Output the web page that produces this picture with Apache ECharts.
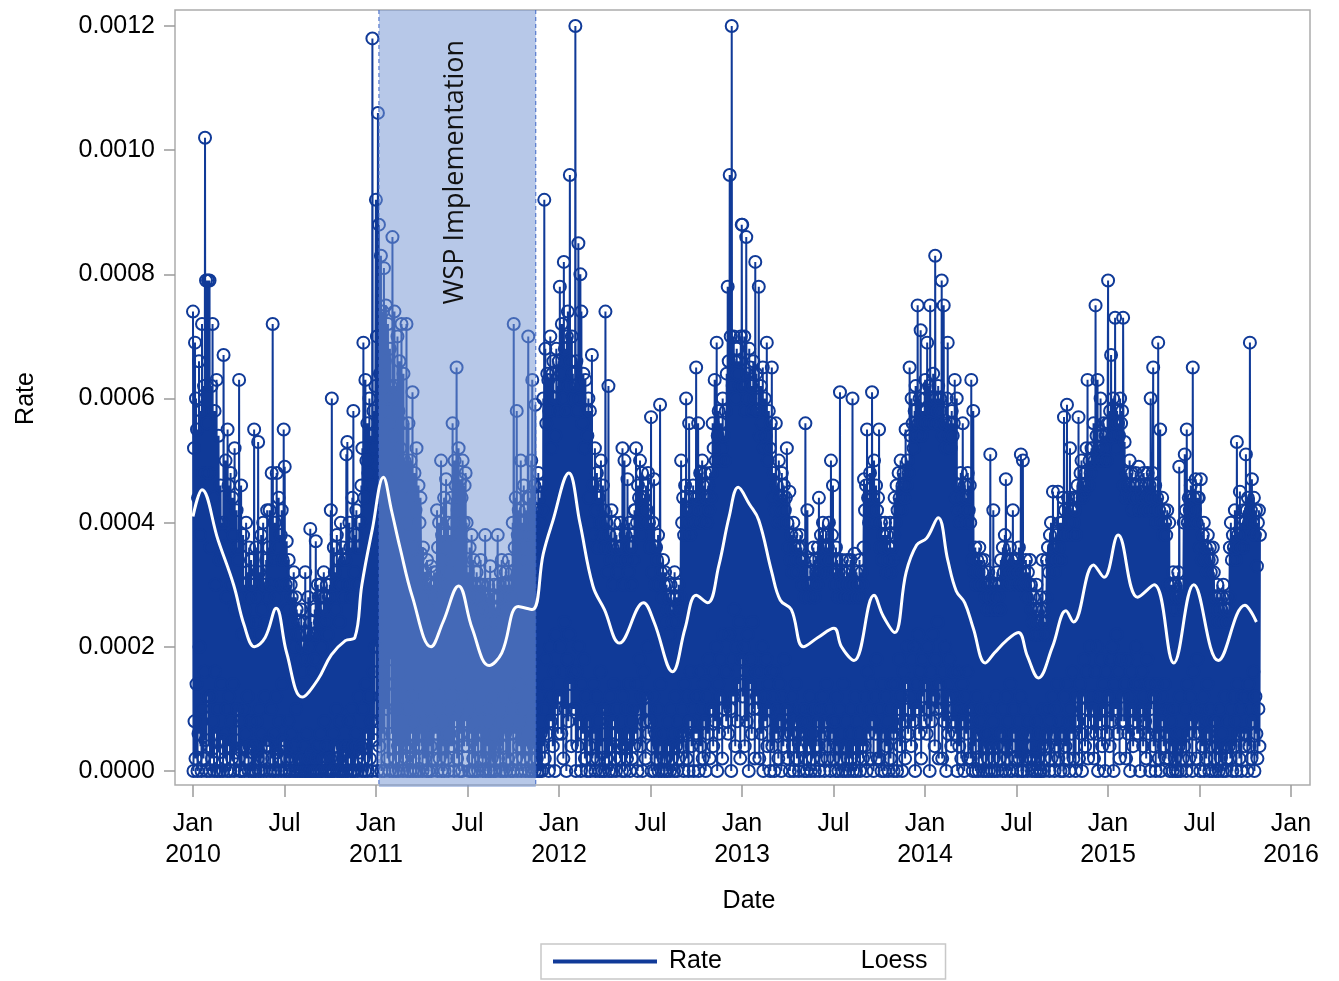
<!DOCTYPE html>
<html>
<head>
<meta charset="utf-8">
<title>Rate and Loess</title>
<script src="https://cdn.jsdelivr.net/npm/echarts@6.0.0/dist/echarts.min.js"></script>
<style>
  html, body { margin: 0; padding: 0; background: #fff; }
  #chart { width: 1339px; height: 981px; }
</style>
</head>
<body>
<div id="chart"></div>
<script>
// daily rate per 100,000 (74 = 0.00074), starting Jan 1 of each year, one row per month
const RATE_UNIT = 1e-5
const DAY = 24 * 3600 * 1000

const rate2010 = [
  74, 0, 52, 8, 69, 2, 60, 14, 55, 0, 44, 6, 66, 20, 38, 4, 58, 0, 72, 10, 48, 2, 62, 16, 102, 5, 79, 0, 56, 12, 79,
  48, 4, 79, 0, 36, 12, 62, 2, 72, 8, 44, 0, 58, 16, 30, 6, 63, 0, 40, 10, 54, 3, 34, 0, 46, 14, 38, 5,
  40, 0, 67, 6, 34, 2, 50, 10, 28, 0, 55, 4, 46, 12, 36, 0, 48, 8, 30, 2, 44, 14, 38, 0, 52, 5, 26, 3, 42, 10, 36,
  34, 2, 63, 0, 28, 8, 46, 0, 22, 4, 38, 10, 30, 0, 26, 6, 40, 2, 32, 12, 24, 0, 36, 4, 28, 8, 34, 0, 30, 3,
  30, 0, 55, 4, 24, 0, 36, 8, 28, 2, 53, 0, 32, 10, 22, 0, 38, 6, 26, 2, 40, 0, 30, 12, 24, 4, 34, 0, 42, 5, 28,
  36, 4, 42, 0, 30, 10, 48, 2, 72, 0, 34, 6, 40, 0, 28, 12, 48, 3, 36, 0, 44, 8, 30, 2, 38, 0, 42, 14, 34, 5,
  55, 0, 49, 4, 30, 0, 37, 2, 26, 8, 34, 0, 22, 0, 30, 6, 28, 2, 24, 0, 32, 4, 20, 0, 28, 10, 26, 0, 22, 2, 24,
  22, 0, 18, 0, 26, 2, 20, 0, 16, 4, 24, 0, 32, 0, 18, 6, 22, 0, 28, 2, 20, 0, 39, 0, 24, 3, 16, 0, 22, 0, 18,
  26, 0, 37, 2, 22, 0, 30, 4, 28, 0, 24, 6, 30, 0, 20, 0, 26, 2, 32, 8, 28, 0, 24, 4, 30, 0, 22, 2, 28, 0,
  30, 2, 42, 0, 60, 0, 28, 6, 36, 0, 32, 4, 26, 10, 38, 0, 30, 2, 34, 0, 24, 8, 40, 0, 30, 4, 36, 0, 28, 3, 34,
  34, 0, 51, 4, 53, 0, 30, 8, 40, 2, 36, 0, 28, 10, 44, 0, 58, 4, 32, 0, 38, 6, 42, 2, 30, 0, 36, 12, 40, 3,
  40, 4, 46, 0, 52, 10, 69, 2, 44, 0, 63, 14, 50, 6, 56, 0, 48, 12, 60, 2, 54, 8, 46, 0, 118, 16, 58, 5, 52, 20, 62,
]
const rate2011 = [
  92, 8, 70, 0, 106, 20, 88, 4, 64, 12, 83, 0, 58, 16, 74, 6, 81, 0, 66, 24, 75, 10, 60, 2, 72, 14, 56, 0, 68, 18, 62,
  60, 6, 86, 0, 54, 14, 74, 2, 62, 0, 48, 10, 70, 4, 58, 0, 66, 16, 52, 2, 72, 8, 56, 0, 64, 12, 50, 4,
  46, 2, 72, 0, 40, 10, 56, 4, 38, 0, 50, 6, 44, 12, 61, 0, 36, 2, 48, 8, 42, 0, 52, 4, 34, 14, 46, 0, 40, 6, 44,
  35, 4, 30, 0, 36, 8, 28, 2, 32, 12, 31, 0, 34, 6, 26, 0, 30, 10, 28, 4, 33, 0, 30, 8, 28, 2, 32, 14, 30, 6,
  32, 6, 42, 0, 36, 10, 40, 2, 30, 12, 50, 0, 38, 4, 34, 8, 44, 0, 30, 14, 47, 2, 36, 6, 40, 0, 32, 10, 38, 4, 34,
  44, 4, 56, 12, 40, 0, 50, 8, 46, 16, 65, 2, 42, 10, 52, 0, 38, 14, 47, 6, 44, 0, 50, 12, 40, 4, 46, 18, 48, 8,
  40, 4, 32, 10, 28, 0, 36, 6, 30, 12, 38, 0, 26, 2, 34, 8, 30, 0, 28, 14, 32, 4, 26, 0, 30, 6, 28, 10, 34, 2, 30,
  26, 0, 30, 6, 24, 2, 38, 0, 28, 10, 22, 4, 30, 0, 26, 8, 33, 0, 24, 2, 28, 12, 22, 0, 30, 6, 26, 0, 24, 4, 28,
  38, 2, 30, 8, 28, 0, 32, 10, 34, 4, 26, 0, 30, 12, 28, 6, 32, 0, 30, 8, 26, 2, 34, 14, 30, 0, 28, 6, 32, 10,
  40, 0, 72, 6, 36, 12, 44, 2, 58, 0, 38, 14, 42, 4, 34, 8, 50, 0, 40, 10, 36, 2, 46, 16, 38, 0, 42, 6, 34, 4, 44,
  70, 0, 44, 8, 38, 2, 50, 0, 63, 14, 40, 4, 46, 0, 59, 10, 42, 2, 36, 0, 48, 12, 44, 0, 40, 6, 46, 0, 42, 4,
  60, 10, 92, 2, 68, 18, 56, 6, 64, 14, 63, 0, 58, 20, 70, 8, 52, 12, 64, 4, 66, 16, 60, 0, 54, 22, 68, 10, 62, 6, 58,
]
const rate2012 = [
  66, 12, 78, 20, 64, 6, 72, 16, 60, 2, 82, 24, 68, 10, 58, 0, 70, 18, 74, 8, 62, 22, 96, 14, 66, 4, 70, 16, 64, 10, 60,
  62, 10, 120, 0, 66, 16, 58, 4, 85, 20, 60, 8, 80, 0, 74, 14, 56, 6, 64, 18, 52, 2, 63, 12, 58, 0, 54, 8, 60,
  44, 4, 58, 0, 40, 10, 67, 2, 46, 14, 38, 6, 52, 0, 42, 12, 48, 2, 36, 8, 44, 0, 40, 16, 50, 4, 38, 0, 46, 10, 42,
  36, 0, 74, 6, 40, 2, 32, 10, 62, 0, 38, 12, 34, 4, 42, 0, 36, 8, 30, 14, 40, 2, 34, 0, 38, 6, 32, 10, 36, 4,
  34, 2, 40, 8, 36, 0, 52, 12, 30, 4, 50, 0, 38, 10, 34, 2, 47, 6, 32, 14, 40, 0, 36, 8, 30, 2, 38, 10, 34, 4, 42,
  42, 6, 52, 14, 40, 0, 46, 10, 44, 18, 50, 4, 38, 12, 48, 0, 42, 16, 44, 8, 40, 2, 46, 12, 42, 20, 48, 6, 40, 10,
  36, 8, 57, 0, 32, 4, 40, 12, 47, 0, 30, 6, 36, 2, 34, 10, 38, 0, 30, 4, 59, 14, 32, 0, 28, 6, 34, 2, 30, 0, 32,
  24, 2, 30, 0, 26, 8, 28, 4, 22, 0, 30, 10, 26, 2, 24, 6, 28, 0, 32, 12, 26, 4, 28, 0, 24, 8, 30, 2, 26, 6, 28,
  50, 4, 40, 10, 44, 0, 38, 14, 46, 6, 60, 2, 42, 12, 40, 0, 56, 8, 38, 16, 44, 4, 42, 10, 46, 0, 40, 12, 44, 6,
  65, 6, 44, 12, 56, 0, 42, 16, 48, 4, 40, 10, 50, 2, 46, 14, 42, 8, 48, 0, 44, 12, 40, 6, 46, 18, 42, 2, 48, 10, 44,
  48, 10, 56, 4, 52, 16, 63, 8, 50, 20, 69, 0, 54, 14, 58, 6, 50, 18, 56, 12, 52, 2, 60, 22, 54, 10, 50, 16, 58, 8,
  64, 16, 78, 6, 66, 22, 96, 10, 70, 0, 120, 18, 62, 12, 70, 26, 66, 4, 60, 20, 68, 8, 64, 14, 66, 24, 62, 2, 70, 18, 88,
]
const rate2013 = [
  88, 12, 62, 20, 70, 4, 58, 16, 86, 8, 64, 22, 60, 0, 68, 14, 65, 18, 62, 6, 58, 24, 66, 10, 60, 2, 82, 16, 64, 12, 58,
  58, 10, 78, 2, 54, 16, 62, 6, 56, 20, 65, 0, 52, 12, 60, 8, 54, 18, 69, 4, 50, 14, 58, 10, 52, 0, 56, 16,
  65, 4, 44, 12, 48, 0, 42, 16, 56, 6, 46, 10, 40, 2, 50, 14, 44, 8, 42, 0, 48, 12, 40, 4, 46, 18, 42, 6, 44, 10, 52,
  40, 2, 36, 10, 45, 0, 34, 6, 38, 12, 32, 4, 40, 0, 36, 8, 34, 14, 38, 2, 32, 6, 36, 0, 34, 10, 38, 4, 36, 8,
  30, 6, 34, 0, 28, 10, 56, 2, 32, 0, 42, 8, 30, 4, 28, 12, 34, 0, 32, 6, 30, 2, 36, 10, 28, 0, 34, 4, 32, 8, 30,
  36, 4, 44, 0, 32, 10, 38, 2, 34, 12, 40, 6, 36, 0, 32, 8, 38, 14, 34, 2, 36, 4, 40, 10, 34, 0, 50, 6, 38, 8,
  46, 2, 32, 8, 30, 0, 36, 12, 34, 4, 28, 0, 32, 10, 61, 2, 30, 6, 34, 0, 28, 14, 32, 4, 30, 0, 28, 8, 34, 2, 30,
  32, 0, 28, 6, 34, 2, 30, 10, 60, 0, 28, 4, 35, 12, 30, 0, 32, 8, 28, 2, 30, 6, 34, 0, 28, 10, 32, 4, 30, 2, 36,
  47, 4, 42, 12, 46, 0, 55, 16, 44, 6, 40, 10, 48, 2, 42, 14, 61, 8, 44, 0, 50, 12, 40, 6, 46, 18, 42, 2, 44, 10,
  55, 2, 36, 10, 40, 0, 34, 14, 38, 6, 36, 0, 40, 12, 32, 4, 38, 8, 34, 0, 36, 10, 40, 2, 32, 14, 36, 6, 34, 0, 38,
  44, 6, 40, 14, 46, 0, 42, 10, 48, 18, 44, 4, 50, 12, 42, 0, 46, 16, 48, 8, 44, 2, 55, 14, 46, 20, 50, 6, 48, 10,
  65, 12, 54, 4, 60, 18, 56, 8, 52, 20, 58, 0, 62, 14, 54, 10, 75, 22, 56, 6, 60, 16, 71, 2, 54, 18, 58, 12, 56, 8, 60,
]
const rate2014 = [
  63, 14, 58, 6, 69, 20, 56, 10, 62, 0, 75, 16, 58, 8, 60, 22, 64, 12, 56, 4, 83, 18, 60, 10, 58, 24, 62, 2, 56, 14, 60,
  58, 10, 79, 2, 54, 16, 75, 8, 56, 20, 52, 0, 60, 14, 69, 6, 54, 18, 56, 12, 52, 4, 58, 16, 54, 8, 56, 10,
  63, 6, 44, 12, 60, 0, 42, 16, 46, 4, 40, 10, 48, 2, 44, 14, 56, 8, 42, 0, 46, 12, 40, 6, 44, 16, 48, 2, 42, 10, 46,
  40, 2, 63, 8, 34, 0, 58, 10, 32, 4, 36, 0, 30, 12, 34, 6, 32, 0, 36, 8, 30, 2, 34, 10, 32, 0, 30, 6, 34, 4,
  28, 0, 30, 6, 26, 2, 32, 0, 28, 10, 51, 4, 30, 0, 26, 8, 42, 2, 28, 0, 30, 12, 26, 4, 32, 0, 28, 6, 30, 2, 26,
  34, 6, 30, 0, 36, 10, 32, 4, 38, 0, 47, 12, 32, 2, 34, 8, 30, 0, 36, 14, 32, 4, 34, 0, 42, 10, 32, 6, 34, 2,
  32, 4, 34, 0, 30, 8, 36, 2, 32, 12, 51, 0, 30, 6, 50, 0, 32, 10, 30, 2, 34, 4, 28, 0, 32, 8, 30, 6, 34, 2, 30,
  26, 0, 24, 4, 28, 2, 22, 0, 26, 8, 30, 0, 24, 2, 22, 6, 26, 0, 28, 0, 24, 4, 34, 10, 26, 0, 22, 2, 24, 6, 28,
  34, 4, 36, 10, 32, 0, 38, 8, 40, 2, 34, 12, 45, 6, 36, 0, 32, 10, 38, 4, 34, 14, 45, 2, 36, 8, 40, 0, 34, 6,
  40, 6, 44, 0, 57, 12, 42, 4, 38, 14, 59, 2, 44, 8, 40, 0, 52, 10, 42, 6, 38, 16, 44, 2, 40, 8, 42, 0, 38, 12, 44,
  46, 8, 57, 2, 44, 14, 48, 6, 50, 0, 44, 12, 46, 18, 45, 4, 48, 10, 52, 16, 63, 2, 46, 8, 50, 20, 48, 6, 52, 12,
  52, 10, 56, 2, 50, 16, 75, 6, 54, 20, 63, 0, 50, 12, 52, 8, 60, 18, 54, 4, 50, 14, 56, 10, 52, 0, 54, 16, 50, 6, 56,
]
const rate2015 = [
  79, 12, 56, 4, 58, 18, 67, 8, 54, 20, 60, 0, 56, 14, 73, 10, 52, 22, 58, 6, 56, 16, 54, 2, 60, 18, 56, 8, 58, 12, 73,
  46, 8, 53, 14, 44, 2, 48, 18, 45, 6, 46, 12, 50, 0, 44, 16, 48, 10, 42, 4, 46, 14, 44, 8, 48, 20, 46, 6,
  44, 6, 49, 14, 42, 0, 46, 10, 45, 16, 44, 4, 48, 12, 42, 8, 46, 2, 44, 18, 48, 6, 42, 14, 46, 0, 60, 10, 44, 12, 48,
  65, 4, 42, 12, 46, 0, 40, 14, 44, 6, 69, 2, 42, 10, 55, 0, 40, 12, 44, 8, 38, 4, 42, 14, 40, 2, 38, 6, 42, 10,
  30, 2, 40, 0, 28, 8, 30, 4, 26, 0, 32, 10, 28, 2, 30, 0, 26, 6, 28, 0, 32, 4, 49, 12, 28, 0, 30, 6, 26, 2, 28,
  40, 4, 51, 10, 42, 0, 55, 14, 40, 6, 44, 2, 42, 12, 46, 8, 40, 0, 65, 16, 44, 6, 42, 10, 47, 2, 40, 18, 44, 8,
  44, 6, 36, 0, 47, 10, 34, 4, 38, 12, 40, 0, 34, 8, 36, 2, 32, 14, 38, 6, 34, 0, 36, 10, 32, 4, 34, 0, 36, 8, 32,
  26, 2, 28, 0, 24, 8, 30, 4, 26, 0, 28, 10, 24, 2, 26, 6, 28, 0, 30, 4, 24, 12, 26, 0, 28, 2, 24, 8, 26, 4, 28,
  36, 2, 40, 10, 34, 0, 38, 12, 36, 4, 42, 8, 34, 0, 53, 14, 38, 6, 36, 2, 45, 10, 38, 0, 40, 12, 36, 6, 42, 4,
  40, 6, 51, 12, 42, 0, 44, 14, 40, 4, 69, 10, 42, 2, 47, 8, 40, 16, 44, 0, 38, 12, 42, 6, 33, 2, 40, 10, 42, 4, 38,
]
const rateYears = [2010, 2011, 2012, 2013, 2014, 2015]
const rateByYear = [rate2010, rate2011, rate2012, rate2013, rate2014, rate2015]

// loess curve, per 100,000
const loessDates = [
  '2010-01-01', '2010-01-19', '2010-02-20', '2010-03-23', '2010-04-13', '2010-05-04', '2010-05-25',
  '2010-06-16', '2010-07-07', '2010-08-07', '2010-09-07', '2010-10-04', '2010-11-01', '2010-11-20',
  '2010-12-04', '2010-12-25', '2011-01-16', '2011-02-01', '2011-02-18', '2011-03-15', '2011-04-21',
  '2011-05-15', '2011-06-15', '2011-07-12', '2011-08-15', '2011-09-09', '2011-10-12', '2011-11-09',
  '2011-12-01', '2011-12-19', '2012-01-21', '2012-02-12', '2012-03-09', '2012-04-01', '2012-05-01',
  '2012-06-18', '2012-07-09', '2012-08-15', '2012-09-09', '2012-10-01', '2012-10-24', '2012-11-15',
  '2012-12-06', '2012-12-24', '2013-01-15', '2013-02-03', '2013-03-01', '2013-03-18', '2013-04-09',
  '2013-05-03', '2013-06-01', '2013-07-03', '2013-07-18', '2013-08-12', '2013-09-21', '2013-10-09',
  '2013-11-01', '2013-11-24', '2013-12-15', '2014-01-04', '2014-01-27', '2014-02-15', '2014-03-04',
  '2014-03-21', '2014-04-07', '2014-05-01', '2014-05-19', '2014-06-12', '2014-07-06', '2014-07-24',
  '2014-08-15', '2014-09-12', '2014-10-09', '2014-10-24', '2014-12-03', '2014-12-24', '2015-01-21',
  '2015-03-01', '2015-04-03', '2015-05-12', '2015-06-21', '2015-08-09', '2015-10-01', '2015-10-24',
]
const loessValues = [
  41, 45.3, 37.2, 30, 23.5, 20, 21.5,
  26.2, 19, 11.9, 14.7, 18.7, 21, 21.5,
  30, 39, 47.3, 42, 36, 28, 20,
  24, 29.8, 23, 17, 19, 26.5, 26,
  35, 40, 48, 40, 29.8, 26, 20.6,
  27.1, 24, 16, 23, 28.3, 27.1, 33,
  41, 45.7, 43, 40.4, 32, 27.5, 26,
  20, 21.5, 23, 20, 17.8, 28.3, 25,
  22.3, 32, 36.4, 37.5, 40.8, 34, 29,
  27.1, 23, 17.4, 19, 21, 22.3, 18.5,
  15, 20, 25.8, 24, 33.2, 31.2, 38,
  28, 30, 17.4, 30, 17.8, 26.7, 24,
]

const xTickLabels = ['Jan\n2010', 'Jul', 'Jan\n2011', 'Jul', 'Jan\n2012', 'Jul', 'Jan\n2013',
  'Jul', 'Jan\n2014', 'Jul', 'Jan\n2015', 'Jul', 'Jan\n2016']
const wspPeriod = ['2011-01-07', '2011-11-16']

const RATE_COLOR = '#103a98'
const FONT = "'Liberation Sans', Arial, sans-serif"

function toTime(s) {
  const [y, m, d] = s.split('-').map(Number)
  return Date.UTC(y, m - 1, d)
}

// the frame box is a bit wider than the tick range; extend the data axes to match
const PX_PER_DAY = 1098 / 2191
const X_MIN = Date.UTC(2010, 0, 1) - (18 / PX_PER_DAY) * DAY
const X_MAX = Date.UTC(2016, 0, 1) + (19 / PX_PER_DAY) * DAY
const PX_PER_UNIT = 745 / 0.0012
const Y_MIN = -14 / PX_PER_UNIT
const Y_MAX = 0.0012 + 16 / PX_PER_UNIT

function rateData() {
  const out = []
  rateYears.forEach((year, i) => {
    const t0 = Date.UTC(year, 0, 1)
    rateByYear[i].forEach((v, k) => {
      out.push([t0 + k * DAY, v * RATE_UNIT])
    })
  })
  return out
}

function renderBand(params, api) {
  const x0 = api.coord([api.value(0), 0])[0]
  const x1 = api.coord([api.value(1), 0])[0]
  const cs = params.coordSys
  const bottom = cs.y + cs.height + 2
  const edge = { stroke: '#3d66c6', lineWidth: 1, lineDash: [4, 3] }
  return {
    type: 'group',
    children: [
      { type: 'rect', shape: { x: x0, y: cs.y, width: x1 - x0, height: bottom - cs.y },
        style: { fill: 'rgba(116, 149, 210, 0.52)' } },
      { type: 'line', shape: { x1: x0, y1: cs.y, x2: x0, y2: bottom }, style: edge },
      { type: 'line', shape: { x1: x1, y1: cs.y, x2: x1, y2: bottom }, style: edge },
      { type: 'text', x: (x0 + x1) / 2 - 2, y: cs.y + 30, rotation: Math.PI / 2,
        style: { text: 'WSP Implementation', fontSize: 27, fontFamily: "'Open Sans', sans-serif",
          fill: '#111', align: 'right', verticalAlign: 'middle' } },
    ],
  }
}

let chart = null

function initChart() {
  chart = echarts.init(document.getElementById('chart'))

  const labelStyle = { color: '#000', fontSize: 25, fontFamily: FONT }
  const tickStyle = { color: '#9a9a9a', width: 1.5 }

  const option = {
    animation: false,
    backgroundColor: '#fff',
    grid: [
      // data + frame
      { left: 175, right: 29, top: 10, bottom: 196, show: true,
        borderColor: '#acacac', borderWidth: 1.5, backgroundColor: 'transparent' },
      // y ticks 0 .. 0.0012
      { left: 175, right: 29, top: 26, bottom: 210 },
      // x ticks Jan 2010 .. Jan 2016
      { left: 193, right: 48, top: 10, bottom: 196 },
    ],
    xAxis: [
      { type: 'time', gridIndex: 0, min: X_MIN, max: X_MAX, show: false },
      { type: 'value', gridIndex: 1, min: 0, max: 1, show: false },
      {
        type: 'value', gridIndex: 2, min: 0, max: 72, interval: 6,
        axisLine: { show: false },
        axisTick: { show: true, length: 12, lineStyle: tickStyle },
        splitLine: { show: false },
        axisLabel: {
          ...labelStyle, margin: 24, lineHeight: 31, showMinLabel: true, showMaxLabel: true,
          formatter: (v) => xTickLabels[Math.round(v / 6)],
        },
        name: 'Date', nameLocation: 'middle', nameGap: 104,
        nameTextStyle: { ...labelStyle, padding: [0, 0, 0, 14] },
      },
    ],
    yAxis: [
      { type: 'value', gridIndex: 0, min: Y_MIN, max: Y_MAX, show: false },
      {
        type: 'value', gridIndex: 1, min: 0, max: 0.0012, interval: 0.0002,
        axisLine: { show: false },
        axisTick: { show: true, length: 11, lineStyle: tickStyle },
        splitLine: { show: false },
        axisLabel: { ...labelStyle, margin: 20, formatter: (v) => v.toFixed(4) },
        name: 'Rate', nameLocation: 'middle', nameGap: 136, nameRotate: 90,
        nameTextStyle: labelStyle,
      },
      { type: 'value', gridIndex: 2, min: 0, max: 1, show: false },
    ],
    legend: {
      left: 541, top: 944,
      padding: [5, 18, 5, 12],
      borderColor: '#c8c8c8', borderWidth: 1.5,
      icon: 'rect', itemWidth: 102, itemHeight: 2, itemGap: 24,
      textStyle: { ...labelStyle, padding: [0, 0, 0, 8] },
      data: [
        { name: 'Rate', itemStyle: { color: RATE_COLOR } },
        { name: 'Loess', itemStyle: { color: '#fff' } },
      ],
    },
    series: [
      {
        name: 'Rate', type: 'line', xAxisIndex: 0, yAxisIndex: 0, z: 2, silent: true,
        data: rateData(),
        symbol: 'circle', symbolSize: 12, showAllSymbol: true,
        itemStyle: { color: 'rgba(0,0,0,0)', borderColor: RATE_COLOR, borderWidth: 2 },
        lineStyle: { color: RATE_COLOR, width: 2 },
      },
      {
        name: 'WSP', type: 'custom', xAxisIndex: 0, yAxisIndex: 0, z: 3, silent: true,
        data: [wspPeriod.map(toTime)],
        encode: { x: [0, 1] },
        renderItem: renderBand,
      },
      {
        name: 'Loess', type: 'line', xAxisIndex: 0, yAxisIndex: 0, z: 4, silent: true,
        data: loessDates.map((d, i) => [toTime(d), loessValues[i] * RATE_UNIT]),
        smooth: 0.4, showSymbol: false,
        itemStyle: { color: '#fff' },
        lineStyle: { color: '#fff', width: 3 },
      },
    ],
  }

  chart.setOption(option)
}

initChart()
</script>
</body>
</html>
